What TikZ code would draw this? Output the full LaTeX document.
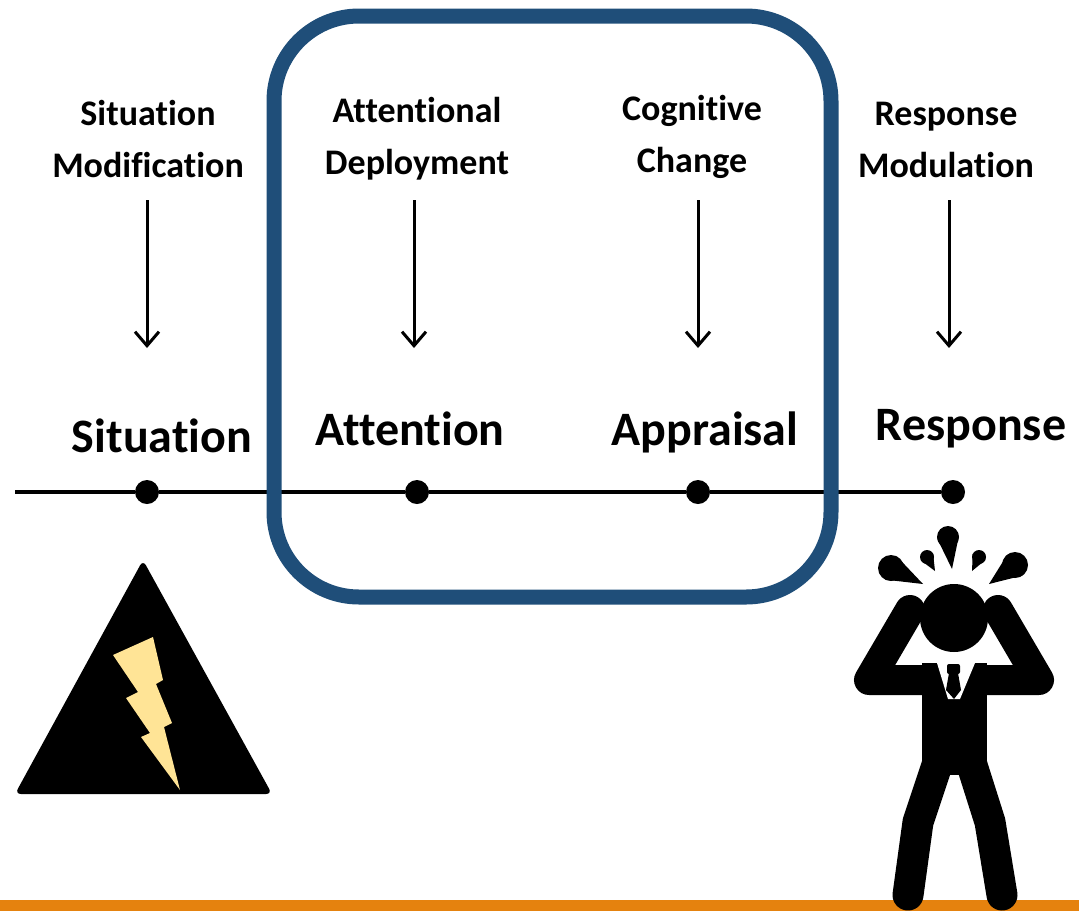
\documentclass[tikz,border=0pt]{standalone}
\usepackage{fontspec}
\setmainfont{Carlito}[Ligatures=NoCommon]
\usetikzlibrary{arrows.meta,calc}
\definecolor{boxblue}{RGB}{31,78,121}
\definecolor{bolt}{RGB}{255,228,150}
\definecolor{barorange}{RGB}{229,130,14}
% a teardrop: bulb centre, bulb radius, tail point
\newcommand\drip[5]{%
  \fill (#1,#2) circle (#3);
  \fill ($(#1,#2)!#3pt!90:(#4,#5)$) -- (#4,#5) -- ($(#1,#2)!#3pt!-90:(#4,#5)$) -- cycle;}
\begin{document}
\begin{tikzpicture}[x=1pt,y=-1pt,
  toplabel/.style={font=\fontsize{36}{52}\selectfont\bfseries, align=center, inner sep=0pt, anchor=base},
  stagelabel/.style={font=\fontsize{48}{56}\selectfont\bfseries, inner sep=0pt, anchor=base},
  dot/.style={circle, fill=black, minimum size=24pt, inner sep=0pt},
  timeline/.style={line width=4pt},
  feed/.style={line width=3pt, -{Straight Barb[length=14pt,width=24pt]}},
  frame/.style={draw=boxblue, line width=15pt, rounded corners=85pt},
  limb/.style={line width=30pt, line cap=round, line join=round},
]
\useasboundingbox (0,0) rectangle (1079,911);

% strategy labels (positioned by the baseline of their last line)
\node[toplabel] (sm) at (148,177) {Situation\\Modification};
\node[toplabel] (ad) at (417,174) {Attentional\\Deployment};
\node[toplabel] (cc) at (692,172) {Cognitive\\Change};
\node[toplabel] (rm) at (946,177) {Response\\Modulation};

% arrows pointing to the stages
\coordinate (a1s) at (147,200); \coordinate (a1e) at (147,348);
\coordinate (a2s) at (414,200); \coordinate (a2e) at (414,348);
\coordinate (a3s) at (698,200); \coordinate (a3e) at (698,348);
\coordinate (a4s) at (949,200); \coordinate (a4e) at (949,348);
\draw[feed] (a1s) -- (a1e);
\draw[feed] (a2s) -- (a2e);
\draw[feed] (a3s) -- (a3e);
\draw[feed] (a4s) -- (a4e);

% stage labels
\node[stagelabel] (situation) at (162,452) {Situation};
\node[stagelabel] (attention) at (410,445) {Attention};
\node[stagelabel] (appraisal) at (705,445) {Appraisal};
\node[stagelabel] (response) at (971,440) {Response};

% timeline
\coordinate (t0) at (15,492);
\node[dot] (d1) at (147,492) {};
\node[dot] (d2) at (417,492) {};
\node[dot] (d3) at (698,492) {};
\node[dot] (d4) at (953,492) {};
\draw[timeline] (t0) -- (d1) -- (d2) -- (d3) -- (d4);

% frame around the middle stages
\draw[frame] (274,16) rectangle (831,597);

% warning sign
\fill[rounded corners=6pt] (143,560) -- (272,794) -- (15,794) -- cycle;
\fill[bolt] (113,655) -- (153,637) -- (163,680) -- (156,684) -- (172,723)
  -- (164,727) -- (180,790) -- (141,737) -- (150,733) -- (126,698)
  -- (138,692) -- cycle;

% bottom bar
\fill[barorange] (0,900) rectangle (1079,911);

% stressed person
\draw[limb] (935,680) -- (869,680) -- (910,610);
\draw[limb] (975,680) -- (1039,680) -- (998,610);
\fill (922,663) rectangle (987,775);
\draw[limb, line width=31pt] (938,762) -- (918,822) -- (908,895);
\draw[limb, line width=31pt] (971,762) -- (990,822) -- (1002,895);
\fill (954,618) circle (34);
% collar and tie
\fill[white] (937,663) -- (975,663) -- (960,699) -- (948,699) -- cycle;
\fill[rounded corners=2pt] (947,664) rectangle (960,674);
\fill (949,673) -- (958,673) -- (961,690) -- (954,699) -- (946,690) -- cycle;
% sweat drops
\drip{948}{537}{11}{952}{569}
\drip{927}{557}{7}{935}{571}
\drip{979}{557}{7}{972}{571}
\drip{891}{568}{13}{923}{584}
\drip{1015}{565}{13}{989}{584}
\end{tikzpicture}
\end{document}
